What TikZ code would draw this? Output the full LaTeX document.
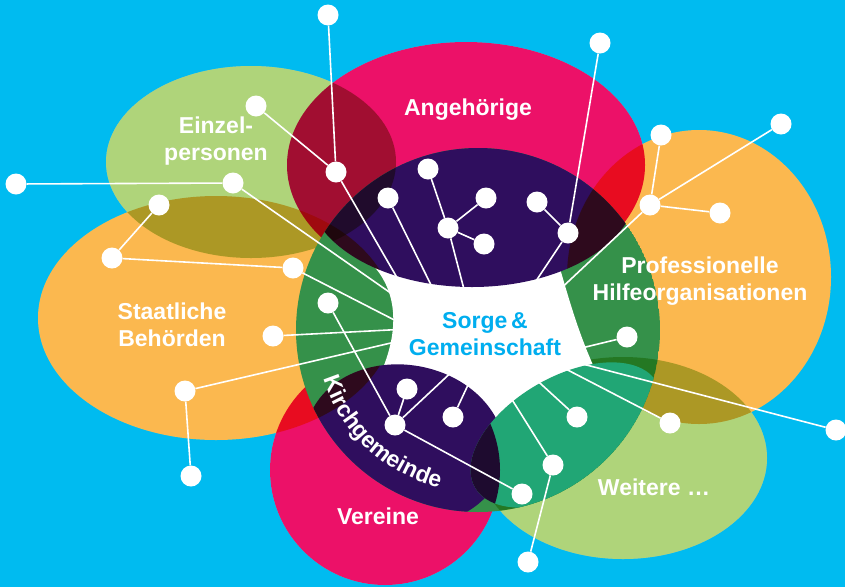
\documentclass[tikz,border=0pt]{standalone}
\usepackage{fontspec}
\setmainfont{Liberation Sans}
\usetikzlibrary{decorations.text}

\definecolor{skyblue}{RGB}{0,187,240}
\definecolor{lightgreen}{RGB}{175,212,122}
\definecolor{sunorange}{RGB}{251,184,79}
\definecolor{berry}{RGB}{236,17,104}
\definecolor{plum}{RGB}{47,14,94}
\definecolor{leafgreen}{RGB}{53,145,74}
\definecolor{seagreen}{RGB}{33,166,117}
\definecolor{titleblue}{RGB}{0,174,239}

% the shapes, in pixel coordinates
\def\einzel{(251,162) ellipse[x radius=145, y radius=96]}
\def\staat{(216,318) ellipse[x radius=178, y radius=122]}
\def\angeh{(466,165) ellipse[x radius=179, y radius=123]}
\def\prof{(699,277) ellipse[x radius=132, y radius=147]}
\def\weitere{(623,458) ellipse[x radius=144, y radius=101]}
\def\vereine{(385,470) circle[radius=115]}
\def\ringpath{(478,330) circle[radius=182]}
\def\toplobe{(472,187) ellipse[x radius=165, y radius=100]}
\def\kirch{[rotate around={-10:(405,445)}] (405,445) ellipse[x radius=100, y radius=80]}
\def\seagrass{[rotate around={30:(566,435)}] (566,435) ellipse[x radius=105, y radius=58]}

\newcommand\kirchfont{\fontsize{23}{23}\selectfont\bfseries}

\tikzset{
  dot/.style={circle, fill=white, inner sep=0pt, minimum size=21pt},
  link/.style={white, line width=1.6pt},
  areatext/.style={text=white, font=\bfseries\fontsize{23}{27}\selectfont, align=center, inner sep=0pt},
}

\begin{document}
\begin{tikzpicture}[x=1pt, y=-1pt]
\useasboundingbox (0,0) rectangle (845,587);
\clip (0,0) rectangle (845,587);
\fill[skyblue] (0,0) rectangle (845,587);

% outer ellipses, multiplied where they overlap
\fill[white] \einzel \staat \angeh \prof \weitere \vereine;
\begin{scope}[blend mode=multiply]
  \fill[lightgreen] \einzel;
  \fill[sunorange] \staat;
  \fill[berry] \angeh;
  \fill[sunorange] \prof;
  \fill[lightgreen] \weitere;
  \fill[berry] \vereine;
\end{scope}

% inner circle with its four parts
\begin{scope}
  \clip \ringpath;
  \fill[leafgreen] \ringpath;
  \begin{scope}[blend mode=multiply]
    \fill[lightgreen] \weitere;
  \end{scope}
  \fill[white] (370,262) .. controls (398,290) and (400,330) .. (380,375)
    -- (489,430) -- (600,380) .. controls (578,335) and (568,295) .. (556,255) -- cycle;
  \fill[plum] \toplobe;
  \begin{scope}[blend mode=multiply]
    \clip \toplobe;
    \fill[lightgreen] \einzel;
    \fill[sunorange] \staat;
    \fill[sunorange] \prof;
  \end{scope}
  \fill[plum] \kirch;
  \begin{scope}[blend mode=multiply]
    \clip \kirch;
    \fill[sunorange] \staat;
  \end{scope}
  \fill[seagreen] \seagrass;
  \begin{scope}[blend mode=multiply]
    \clip \seagrass;
    \fill[berry] \vereine;
  \end{scope}
\end{scope}

% network
\foreach \n/\x/\y in {a0/328/15, a1/256/106, a2/336/172, b0/16/184, b1/233/183,
    c1/159/205, c2/112/258, c3/293/268, d1/273/336, e1/185/391, e0/191/476,
    f1/328/303, h1/388/198, g1/448/228, g2/428/169, g3/486/198, g4/484/244,
    q0/600/43, q1/568/233, q2/537/202, p0/661/135, p1/650/205, p2/781/124,
    p3/720/213, t5/627/337, t4/836/430, t3/670/423, t2/577/417, t1/553/465,
    t0/528/562, w1/522/494, k1/395/425, k2/407/389, k3/453/417}
  \node[dot] (\n) at (\x,\y) {};
\foreach \n/\x/\y in {a2x/403/288, b1x/405/303, c3x/408/327, d1x/408/329,
    e1x/408/339, h1x/436/295, g1x/466/297, q1x/530/290, p1x/555/294,
    t5x/565/352, t4x/575/362, t3x/560/366, t2x/530/374, t1x/506/390,
    k1x/458/366, k3x/475/370}
  \coordinate (\n) at (\x,\y);
\foreach \u/\v in {a0/a2, a1/a2, a2/a2x, b0/b1, b1/b1x, c1/c2, c2/c3, c3/c3x,
    d1/d1x, e0/e1, e1/e1x, f1/k1, h1/h1x, g2/g1, g3/g1, g4/g1, g1/g1x,
    q0/q1, q2/q1, q1/q1x, p0/p1, p2/p1, p3/p1, p1/p1x, t5/t5x, t4/t4x,
    t3/t3x, t2/t2x, t0/t1, t1/t1x, k2/k1, k1/w1, k1/k1x, k3/k3x}
  \draw[link] (\u) -- (\v);

% labels
\node[areatext] (angehoerige) at (468,110) {Angehörige};
\node[areatext] (einzelpersonen) at (216,141) {Einzel-\\personen};
\node[areatext] (behoerden) at (172,325) {Staatliche\\Behörden};
\node[areatext] (hilfe) at (700,281) {Professionelle\\Hilfeorganisationen};
\node[areatext] (weitere) at (654,487) {Weitere …};
\node[areatext] (vereine) at (378,516) {Vereine};
\node[areatext, text=titleblue] (sorge) at (485,334) {Sorge\,\&\\Gemeinschaft};
\path[decorate, decoration={text along path, text={|\kirchfont|Kirchgemeinde},
    text align=center, text color=white}]
  (318.4,302) arc[start angle=190, end angle=76.4, radius=162];
\end{tikzpicture}
\end{document}
